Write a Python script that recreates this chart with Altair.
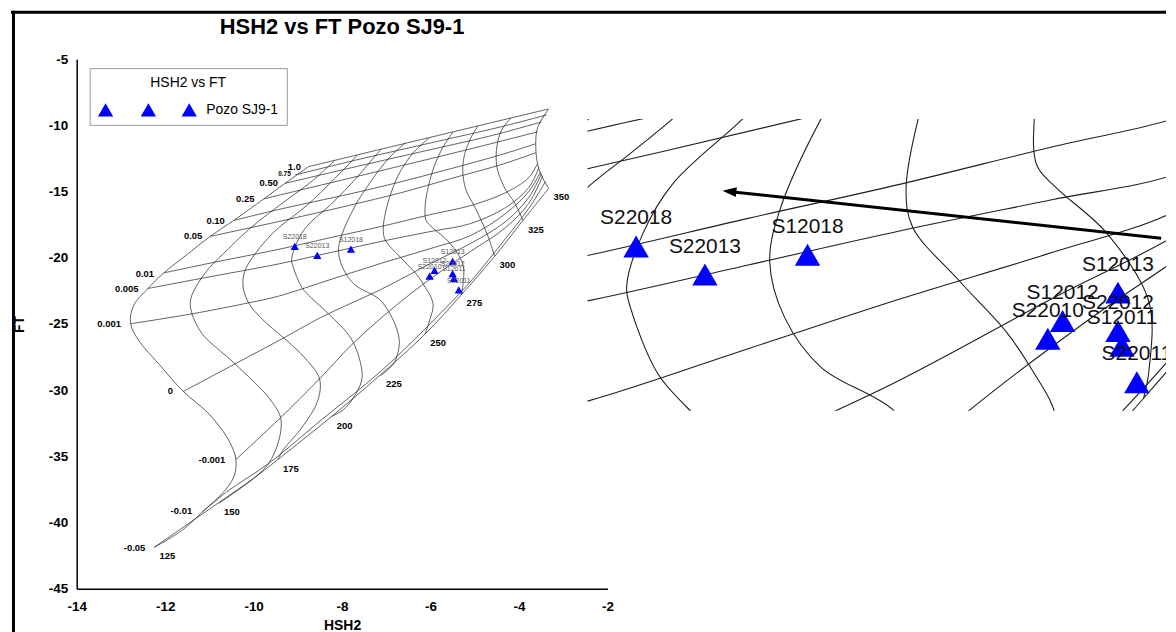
import altair as alt
import pandas as pd

FONT = "Liberation Sans"

X_TICKS = [-14, -12, -10, -8, -6, -4, -2]
Y_TICKS = [-45, -40, -35, -30, -25, -20, -15, -10, -5]

# ---------------- isotherms (deg C): HSH2 / FT points
ISO_125_X = [-12.25, -11.61, -11.16, -10.71, -10.45, -10.40, -10.56, -11.01, -11.59, -12.14, -12.59, -12.78, -12.72, -12.39, -12.03, -11.50, -10.98, -10.45, -9.77, -9.29, -8.76]
ISO_125_Y = [-41.87, -40.56, -39.19, -37.80, -36.56, -35.23, -33.80, -31.79, -30.09, -28.03, -26.28, -24.98, -23.65, -22.32, -21.14, -19.74, -18.38, -17.18, -15.55, -14.38, -13.12]
ISO_150_X = [-10.78, -10.49, -9.97, -9.66, -9.43, -9.39, -9.66, -10.42, -11.16, -11.39, -11.43, -11.32, -11.01, -10.56, -10.11, -9.66, -9.21, -8.75, -8.46, -8.17]
ISO_150_Y = [-38.53, -37.86, -36.58, -35.53, -33.80, -32.07, -30.56, -28.01, -25.75, -24.25, -23.27, -22.29, -20.79, -19.29, -17.86, -16.65, -15.53, -14.40, -13.57, -12.67]
ISO_175_X = [-9.45, -9.34, -8.91, -8.55, -8.51, -8.84, -9.32, -9.81, -10.11, -10.24, -10.20, -9.99, -9.72, -9.43, -9.11, -8.80, -8.46, -8.17, -7.90, -7.65]
ISO_175_Y = [-35.23, -34.55, -32.82, -30.79, -29.14, -27.56, -26.05, -24.62, -23.42, -22.14, -21.02, -19.81, -18.68, -17.71, -16.88, -16.05, -15.00, -14.02, -13.12, -12.22]
ISO_200_X = [-8.24, -7.97, -7.74, -7.56, -7.56, -7.79, -8.30, -8.69, -8.91, -9.11, -9.14, -9.02, -8.80, -8.28, -7.94, -7.63, -7.36, -7.11]
ISO_200_Y = [-31.99, -31.47, -30.56, -29.29, -28.31, -26.13, -24.25, -23.05, -22.22, -20.64, -20.11, -18.83, -17.63, -16.05, -14.92, -13.80, -12.74, -11.77]
ISO_225_X = [-7.13, -7.02, -6.82, -6.71, -6.73, -6.89, -7.16, -7.70, -7.97, -8.08, -8.01, -7.70, -7.43, -7.16, -6.89, -6.57]
ISO_225_Y = [-28.91, -28.61, -27.93, -26.65, -25.75, -24.40, -23.12, -22.07, -20.86, -19.51, -18.31, -16.05, -14.62, -13.35, -12.29, -11.32]
ISO_250_X = [-6.12, -6.01, -5.94, -5.99, -6.12, -6.32, -6.68, -7.02, -7.07, -6.98, -6.84, -6.66, -6.39, -6.03]
ISO_250_Y = [-25.75, -24.62, -23.65, -22.97, -22.22, -21.24, -19.96, -18.68, -17.78, -16.05, -14.62, -13.35, -12.07, -10.94]
ISO_275_X = [-5.31, -5.27, -5.27, -5.58, -5.96, -6.10, -6.12, -6.05, -5.92, -5.74, -5.49]
ISO_275_Y = [-22.82, -22.14, -20.49, -18.83, -17.71, -17.18, -16.05, -14.62, -13.12, -11.77, -10.49]
ISO_300_X = [-4.55, -4.70, -4.97, -5.20, -5.27, -5.24, -5.11, -4.93]
ISO_300_Y = [-19.89, -18.38, -16.35, -14.85, -13.50, -12.37, -11.09, -10.04]
ISO_325_X = [-3.91, -4.09, -4.34, -4.50, -4.50, -4.39, -4.18]
ISO_325_Y = [-17.18, -15.90, -14.62, -13.12, -11.62, -10.34, -9.44]
ISO_350_X = [-3.33, -3.51, -3.58, -3.62, -3.58, -3.33]
ISO_350_Y = [-14.77, -13.65, -12.89, -11.62, -10.19, -8.76]

# ---------------- steam-fraction lines
Y_100_X = [-8.76, -6.05, -3.33]
Y_100_Y = [-13.12, -10.94, -8.76]
Y_075_X = [-9.06, -7.56, -5.99, -4.41, -3.37]
Y_075_Y = [-13.74, -12.52, -11.32, -10.11, -9.21]
Y_050_X = [-9.29, -7.79, -6.21, -4.64, -3.49]
Y_050_Y = [-14.38, -13.20, -11.99, -10.79, -9.74]
Y_025_X = [-9.77, -8.24, -6.66, -5.09, -3.58]
Y_025_Y = [-15.55, -14.32, -13.05, -11.77, -10.49]
Y_010_X = [-10.45, -9.43, -7.79, -6.66, -5.54, -4.41, -3.62]
Y_010_Y = [-17.18, -16.35, -15.15, -14.25, -13.27, -12.22, -11.39]
Y_005_X = [-10.98, -9.43, -7.85, -6.66, -5.54, -4.41, -3.62]
Y_005_Y = [-18.38, -17.26, -16.05, -15.08, -14.02, -12.97, -12.07]
Y_001_X = [-12.03, -10.89, -9.43, -8.24, -7.11, -5.99, -5.09, -4.30, -3.78, -3.58]
Y_001_Y = [-21.14, -20.34, -19.36, -18.46, -17.63, -16.73, -16.05, -15.08, -13.95, -12.89]
Y_0005_X = [-12.39, -11.16, -9.43, -8.24, -7.11, -5.99, -5.09, -4.30, -3.78, -3.55]
Y_0005_Y = [-22.32, -21.54, -20.46, -19.59, -18.76, -18.01, -17.41, -16.20, -14.70, -13.20]
Y_0001_X = [-12.78, -11.39, -10.11, -9.43, -8.24, -7.11, -5.99, -5.09, -4.30, -3.78, -3.51]
Y_0001_Y = [-24.98, -24.23, -23.40, -22.89, -21.62, -20.41, -19.29, -18.31, -16.65, -15.00, -13.50]
Y_0_X = [-11.59, -10.42, -9.32, -8.46, -7.11, -5.99, -5.09, -4.30, -3.78, -3.49]
Y_0_Y = [-30.09, -28.01, -26.05, -24.47, -22.37, -20.41, -18.91, -17.26, -15.45, -13.65]
Y_M0001_X = [-10.40, -9.39, -8.51, -7.74, -6.66, -5.76, -5.09, -4.30, -3.78, -3.46]
Y_M0001_Y = [-35.23, -32.07, -29.14, -26.43, -23.27, -21.02, -19.51, -17.71, -15.90, -13.80]
Y_M001_X = [-11.16, -10.56, -9.66, -8.46, -7.11, -5.99, -5.09, -4.30, -3.78, -3.40]
Y_M001_Y = [-39.19, -37.56, -35.53, -32.22, -28.53, -24.92, -21.77, -18.53, -16.28, -14.25]
Y_M005_X = [-12.25, -11.46, -10.71, -9.97, -9.45, -8.24, -7.13, -6.12, -5.31, -4.55, -3.91, -3.33]
Y_M005_Y = [-41.87, -40.04, -38.31, -36.58, -35.23, -31.99, -28.83, -25.75, -22.82, -19.89, -17.18, -14.77]

# ---------------- grid labels
ISO_LABELS = ["125", "150", "175", "200", "225", "250", "275", "300", "325", "350"]
ISO_LABEL_X = [-11.95, -10.49, -9.16, -7.94, -6.83, -5.83, -5.01, -4.26, -3.62, -3.04]
ISO_LABEL_Y = [-42.52, -39.19, -35.93, -32.67, -29.53, -26.45, -23.44, -20.56, -17.88, -15.43]

STEAM_LABELS = ["1.0", "0.75", "0.50", "0.25", "0.10", "0.05", "0.01", "0.005", "0.001", "0", "-0.001", "-0.01", "-0.05"]
STEAM_LABEL_X = [-8.93, -9.16, -9.45, -9.98, -10.65, -11.16, -12.25, -12.60, -13.00, -11.82, -10.64, -11.39, -12.45]
STEAM_LABEL_Y = [-13.17, -13.70, -14.38, -15.58, -17.20, -18.38, -21.19, -22.35, -25.02, -30.09, -35.25, -39.14, -41.94]
STEAM_LABEL_SIZE = [9.5, 6.5, 9.5, 9.5, 9.5, 9.5, 9.5, 9.5, 9.5, 9.5, 9.5, 9.5, 9.5]

# ---------------- samples
SAMPLE_NAMES = ["S22018", "S22013", "S12018", "S12013", "S12012", "S22010", "S22012", "S12011", "S22011"]
SAMPLE_HSH2 = [-9.07, -8.56, -7.80, -5.50, -5.91, -6.02, -5.50, -5.47, -5.36]
SAMPLE_FT = [-19.14, -19.82, -19.34, -20.26, -20.95, -21.38, -21.19, -21.55, -22.43]
SERIES = "Pozo SJ9-1"

# ---------------- magnified view and its arrow
INSET_X_DOMAIN = [-9.43, -5.144]
INSET_Y_DOMAIN = [-23.12, -16.05]
ARROW_START = (-5.18, -18.94)
ARROW_LINE_END = (-8.35, -17.82)
ARROW_TIP = (-8.43, -17.79)

# ------------------------------------------------------------------------
ISOTHERMS = {
    "125": (ISO_125_X, ISO_125_Y), "150": (ISO_150_X, ISO_150_Y),
    "175": (ISO_175_X, ISO_175_Y), "200": (ISO_200_X, ISO_200_Y),
    "225": (ISO_225_X, ISO_225_Y), "250": (ISO_250_X, ISO_250_Y),
    "275": (ISO_275_X, ISO_275_Y), "300": (ISO_300_X, ISO_300_Y),
    "325": (ISO_325_X, ISO_325_Y), "350": (ISO_350_X, ISO_350_Y),
}
STEAM_LINES = {
    "1.0": (Y_100_X, Y_100_Y), "0.75": (Y_075_X, Y_075_Y),
    "0.50": (Y_050_X, Y_050_Y), "0.25": (Y_025_X, Y_025_Y),
    "0.10": (Y_010_X, Y_010_Y), "0.05": (Y_005_X, Y_005_Y),
    "0.01": (Y_001_X, Y_001_Y), "0.005": (Y_0005_X, Y_0005_Y),
    "0.001": (Y_0001_X, Y_0001_Y), "0": (Y_0_X, Y_0_Y),
    "-0.001": (Y_M0001_X, Y_M0001_Y), "-0.01": (Y_M001_X, Y_M001_Y),
    "-0.05": (Y_M005_X, Y_M005_Y),
}

rows = []
for fam, dct in (("T", ISOTHERMS), ("y", STEAM_LINES)):
    for name, (xs, ys) in dct.items():
        for i, (xv, yv) in enumerate(zip(xs, ys)):
            rows.append({"curve": fam + name, "i": i, "HSH2": xv, "FT": yv})
grid_df = pd.DataFrame(rows)

samples_df = pd.DataFrame({"name": SAMPLE_NAMES, "HSH2": SAMPLE_HSH2,
                           "FT": SAMPLE_FT, "series": [SERIES] * len(SAMPLE_NAMES)})
iso_lab_df = pd.DataFrame({"label": ISO_LABELS, "HSH2": ISO_LABEL_X, "FT": ISO_LABEL_Y})
steam_lab_df = pd.DataFrame({"label": STEAM_LABELS, "HSH2": STEAM_LABEL_X,
                             "FT": STEAM_LABEL_Y, "fs": STEAM_LABEL_SIZE})
arrow_df = pd.DataFrame({"HSH2": [ARROW_START[0]], "FT": [ARROW_START[1]],
                         "HSH2_end": [ARROW_LINE_END[0]], "FT_end": [ARROW_LINE_END[1]]})
tip_df = pd.DataFrame({"HSH2": [ARROW_TIP[0]], "FT": [ARROW_TIP[1]]})
one_df = pd.DataFrame({"k": [0]})

# ---------------- main chart (plot area 533 px wide; the magnified view overlaps its last 20 px)
MAIN_W, MAIN_H = 533, 532
xs_main = alt.Scale(domain=[-14, -2], nice=False, zero=False, range=[0, MAIN_W])
ys_main = alt.Scale(domain=[-45, -5], nice=False, zero=False)
ax_x = alt.Axis(values=X_TICKS, title="HSH2", titleFont=FONT, titleFontSize=14,
                titleFontWeight="bold", titleColor="black", titlePadding=5,
                titleX=MAIN_W / 2,
                labelFont=FONT, labelFontSize=13.5, labelFontWeight="bold",
                labelColor="black", labelPadding=11, labelFlush=False,
                labelExpr="'' + datum.value", ticks=False, grid=False,
                domainColor="black", domainWidth=1.5)
ax_y = alt.Axis(values=Y_TICKS, title="FT", titleFont=FONT, titleFontSize=14,
                titleFontWeight="bold", titleColor="black", titlePadding=22,
                labelFont=FONT, labelFontSize=13.5, labelFontWeight="bold",
                labelColor="black", labelPadding=9, labelExpr="'' + datum.value",
                ticks=False, grid=False, domainColor="black", domainWidth=1.5)
MX = alt.X("HSH2:Q", scale=xs_main, axis=ax_x)
MY = alt.Y("FT:Q", scale=ys_main, axis=ax_y)

LEG_PATH = ("M0,-0.83L0.96,0.83L-0.96,0.83Z"
            "M5.375,-0.83L6.335,0.83L4.415,0.83Z"
            "M10.5,-0.83L11.46,0.83L9.54,0.83Z")
legend = alt.Legend(title="HSH2 vs FT", orient="none", legendX=13, legendY=9,
                    symbolType=LEG_PATH, symbolSize=256, symbolStrokeWidth=0,
                    symbolOpacity=1, labelOffset=93, padding=8,
                    strokeColor="#999999", fillColor="white",
                    titleAnchor="middle", titleFont=FONT, titleFontSize=14,
                    titleFontWeight="normal", titleColor="black", titlePadding=12,
                    labelFont=FONT, labelFontSize=14, labelColor="black")

grid_main = alt.Chart(grid_df).mark_line(
    color="#1e1e1e", strokeWidth=0.7, interpolate="catmull-rom").encode(
    x=MX, y=MY, detail="curve:N", order="i:Q")
iso_labels = alt.Chart(iso_lab_df).mark_text(
    font=FONT, fontSize=9.5, fontWeight="bold", color="black").encode(
    x=MX, y=MY, text="label:N")
steam_labels = alt.Chart(steam_lab_df).mark_text(
    font=FONT, fontWeight="bold", color="black", align="right", baseline="middle").encode(
    x=MX, y=MY, text="label:N", size=alt.Size("fs:Q", scale=None, legend=None))
points_main = alt.Chart(samples_df).mark_point(
    shape="triangle-up", filled=True, size=70, opacity=1, strokeWidth=0).encode(
    x=MX, y=MY, color=alt.Color("series:N", scale=alt.Scale(range=["#0000ff"]), legend=legend))
point_labels_main = alt.Chart(samples_df).mark_text(
    font=FONT, fontSize=7, color="#555555", dy=-9.5).encode(x=MX, y=MY, text="name:N")

main = alt.layer(grid_main, iso_labels, steam_labels,
                 points_main, point_labels_main).properties(
    width=MAIN_W - 20, height=MAIN_H,
    title=alt.TitleParams("HSH2 vs FT Pozo SJ9-1", font=FONT, fontSize=22,
                          fontWeight="bold", color="black", anchor="middle",
                          frame="group", offset=13, dx=10))

# ---------------- magnified view
xs_in = alt.Scale(domain=INSET_X_DOMAIN, nice=False, zero=False)
ys_in = alt.Scale(domain=INSET_Y_DOMAIN, nice=False, zero=False)
IX = alt.X("HSH2:Q", scale=xs_in, axis=None)
IY = alt.Y("FT:Q", scale=ys_in, axis=None)

grid_in = alt.Chart(grid_df).mark_line(
    color="#1e1e1e", strokeWidth=1.1, interpolate="catmull-rom", clip=True).encode(
    x=IX, y=IY, detail="curve:N", order="i:Q")
points_in = alt.Chart(samples_df).mark_point(
    shape="triangle-up", filled=True, size=650, opacity=1, strokeWidth=0,
    color="#0000ff", clip=True).encode(x=IX, y=IY)
labels_in = alt.Chart(samples_df).mark_text(
    font=FONT, fontSize=21, color="#111111", dy=-28, clip=True).encode(
    x=IX, y=IY, text="name:N")
arrow_line = alt.Chart(arrow_df).mark_rule(color="black", strokeWidth=3, clip=True).encode(
    x=IX, y=IY, x2="HSH2_end:Q", y2="FT_end:Q")
arrow_head = alt.Chart(tip_df).mark_point(
    shape="M0,0L2,-0.7L2,0.7Z", filled=True, size=196, opacity=1, strokeWidth=0,
    color="black", angle=6, clip=True).encode(x=IX, y=IY)

inset = alt.layer(grid_in, points_in, labels_in, arrow_line, arrow_head).properties(
    width=581, height=293)

# spacer above the magnified view; it also carries the screenshot frame (top and left edges)
frame_top = alt.Chart(one_df).mark_rule(color="black", strokeWidth=3).encode(
    x=alt.value(-579), x2=alt.value(581), y=alt.value(-47))
frame_left = alt.Chart(one_df).mark_rule(color="black", strokeWidth=3).encode(
    x=alt.value(-576.5), y=alt.value(-48.5), y2=alt.value(585))
spacer = alt.layer(frame_top, frame_left).properties(width=581, height=60)

right = alt.vconcat(spacer, inset, spacing=0, bounds="flush")

chart = alt.hconcat(main, right, spacing=0, bounds="flush").configure_view(
    strokeWidth=0).properties(padding={"left": 1, "top": 0, "right": 0, "bottom": 0})

chart.save("out.html", embed_options={"renderer": "svg", "actions": False})
